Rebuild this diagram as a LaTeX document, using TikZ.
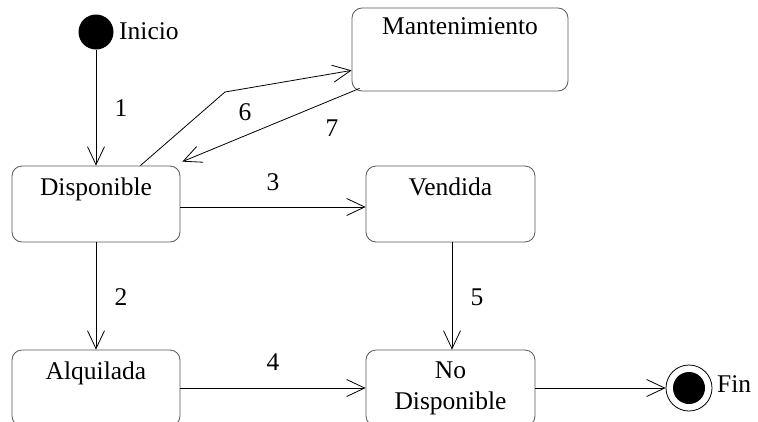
\documentclass[tikz,border=0pt]{standalone}
\usepackage{fontspec}
\setmainfont{Liberation Serif}
\usetikzlibrary{arrows.meta,calc}
\begin{document}
\begin{tikzpicture}[x=1pt,y=-1pt,
  every node/.style={font=\fontsize{25.5}{30}\selectfont, inner sep=0pt},
  statebox/.style={draw=black!65, line width=0.8pt, rounded corners=10pt, minimum height=76pt},
  trans/.style={draw=black, line width=0.8pt, -{Straight Barb[length=18pt,width=17pt,line width=0.8pt]}},
  lbl/.style={anchor=center}]
\useasboundingbox (0,0) rectangle (758,421);
% initial state
\node[circle, fill=black, minimum size=35pt] (ini) at (96,32) {};
\node[anchor=west] (initxt) at (119,31) {Inicio};
% states
\node[statebox, minimum width=168pt] (disp) at (96,204) {};
\node[anchor=base] (disptxt) at ($(disp.north)+(0,30)$) {Disponible};
\node[statebox, minimum width=216pt, minimum height=83pt] (mant) at (460,49.5) {};
\node[anchor=base] (manttxt) at ($(mant.north)+(0,27)$) {Mantenimiento};
\node[statebox, minimum width=169pt] (vend) at (450.5,204) {};
\node[anchor=base] (vendtxt) at ($(vend.north)+(0,30)$) {Vendida};
\node[statebox, minimum width=168pt] (alq) at (96,388) {};
\node[anchor=base] (alqtxt) at ($(alq.north)+(0,30)$) {Alquilada};
\node[statebox, minimum width=169pt] (nod) at (450.5,388) {};
\node[anchor=base] (nodtxt1) at ($(nod.north)+(0,29)$) {No};
\node[anchor=base] (nodtxt2) at ($(nod.north)+(0,60)$) {Disponible};
% final state
\node[circle, draw=black, line width=0.8pt, minimum size=46pt] (fin) at (689,388) {};
\node[circle, fill=black, minimum size=32pt] (fininner) at (fin.center) {};
\node[anchor=west] (fintxt) at (717,384) {Fin};
% transitions
\draw[trans] (ini.south) -- (disp.north);
\node[lbl] (l1) at (121,108) {1};
\draw[trans] (disp.south) -- (alq.north);
\node[lbl] (l2) at (121,297) {2};
\draw[trans] (disp.east |- 0,207) -- (vend.west |- 0,207);
\node[lbl] (l3) at (273,182) {3};
\draw[trans] (alq.east) -- (nod.west);
\node[lbl] (l4) at (273,362) {4};
\draw[trans] (vend.south -| 452,0) -- (nod.north -| 452,0);
\node[lbl] (l5) at (477,297) {5};
\coordinate (bend6) at (225,92);
\draw[trans] ($(disp.north east)+(-40,0)$) -- (bend6) -- ($(mant.south west)+(0,-21)$);
\node[lbl] (l6) at (245,112) {6};
\draw[trans] ($(mant.south west)+(8,-3)$) -- ($(disp.north east)+(2,-4)$);
\node[lbl] (l7) at (332,128) {7};
\draw[trans] (nod.east) -- (fin.west);
\end{tikzpicture}
\end{document}
